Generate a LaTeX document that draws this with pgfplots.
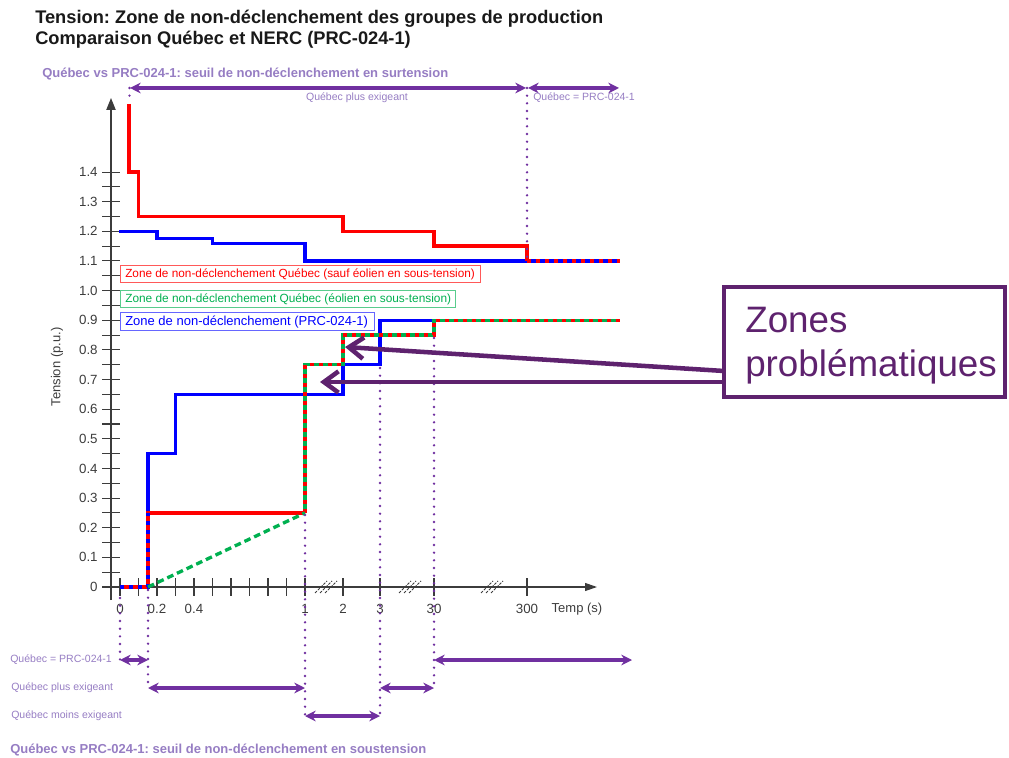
\documentclass[border=0pt]{standalone}
\usepackage{pgfplots}
\pgfplotsset{compat=1.18}
\usepackage{fontspec}
\setmainfont{Liberation Sans}
\usetikzlibrary{arrows.meta}
\frenchspacing

\definecolor{myred}{RGB}{255,0,0}
\definecolor{myblue}{RGB}{0,0,255}
\definecolor{mygreen}{RGB}{0,176,80}
\definecolor{arrowpurple}{RGB}{112,48,160}
\definecolor{lavender}{RGB}{150,125,195}
\definecolor{darkpurple}{RGB}{94,34,110}
\definecolor{axisgray}{RGB}{60,60,60}

\begin{document}
\begin{tikzpicture}
\useasboundingbox (0,0) rectangle (756.75pt,567.75pt);
\begin{axis}[
  at={(78pt,117.75pt)}, anchor=south west,
  scale only axis, width=369.75pt, height=376.5pt,
  xmin=-7, xmax=486, ymin=-0.04386, ymax=1.6498,
  axis lines=middle,
  axis line style={draw=axisgray, line width=0.9pt},
  x axis line style={-{Triangle[length=9pt,width=6pt]}},
  y axis line style={-{Triangle[length=9pt,width=7pt]}},
  clip=false,
  xtick={9,27.5,46,64.5,83,101.5,120,138.5,157,175.5,194,232,269,323,416},
  xticklabels={0,,0.2,,0.4,,,,,,1,2,3,30,300},
  ytick={0,0.1,0.2,0.3,0.4,0.5,0.6,0.7,0.8,0.9,1.0,1.1,1.2,1.3,1.4},
  yticklabels={0,0.1,0.2,0.3,0.4,0.5,0.6,0.7,0.8,0.9,1.0,1.1,1.2,1.3,1.4},
  minor y tick num=1,
  tick align=center,
  major tick length=13pt, minor tick length=13pt,
  tick style={draw=axisgray, line width=0.8pt},
  every tick/.style={draw=axisgray, line width=0.8pt},
  minor tick style={draw=axisgray, line width=0.8pt},
  hide obscured x ticks=false, hide obscured y ticks=false,
  ticklabel style={font=\fontsize{10}{12}\selectfont, text=axisgray},
  xticklabel style={yshift=-3pt},
  /pgf/number format/assume math mode=true,
]
% overvoltage PRC-024-1
\addplot[myblue, line width=2.5pt, mark=none] coordinates {(8,1.2)(46,1.2)(46,1.175)(101.5,1.175)(101.5,1.16)(194,1.16)(194,1.1)(509,1.1)};
% undervoltage PRC-024-1
\addplot[myblue, line width=2.5pt, mark=none] coordinates {(9,0)(37,0)(37,0.45)(64.5,0.45)(64.5,0.65)(232,0.65)(232,0.75)(269,0.75)(269,0.9)(509,0.9)};
% Quebec overvoltage
\addplot[myred, line width=2.5pt, mark=none] coordinates {(18,1.63)(18,1.4)(27.5,1.4)(27.5,1.25)(232,1.25)(232,1.2)(323,1.2)(323,1.15)(416,1.15)(416,1.1)};
\addplot[myred, line width=2.5pt, mark=none, dash pattern=on 3pt off 3.75pt] coordinates {(416,1.1)(509,1.1)};
% Quebec undervoltage (sauf eolien)
\addplot[myred, line width=2.5pt, mark=none] coordinates {(9,0)(37,0)(37,0.25)(194,0.25)};
\addplot[myblue, line width=2.5pt, mark=none, dash pattern=on 3pt off 3.75pt] coordinates {(9,0)(37,0)(37,0.25)};
% Quebec eolien
\addplot[mygreen, line width=2.5pt, mark=none] coordinates {(194,0.25)(194,0.75)(232,0.75)(232,0.85)(323,0.85)(323,0.9)(509,0.9)};
\addplot[myred, line width=2.5pt, mark=none, dash pattern=on 3pt off 3.75pt] coordinates {(194,0.25)(194,0.75)(232,0.75)(232,0.85)(323,0.85)(323,0.9)(509,0.9)};
\addplot[mygreen, line width=2.5pt, mark=none, dash pattern=on 5pt off 3pt] coordinates {(37,0)(194,0.25)};
\end{axis}

\begin{scope}[x=0.75pt,y=-0.75pt,yshift=567.75pt]
% titles
\node[anchor=base west, inner sep=0, font=\fontsize{13.7}{16}\selectfont\bfseries, text=black!90] at (35,23.5) {Tension: Zone de non-déclenchement des groupes de production};
\node[anchor=base west, inner sep=0, font=\fontsize{13.7}{16}\selectfont\bfseries, text=black!90] at (35,44.5) {Comparaison Québec et NERC (PRC-024-1)};
% axis labels
\node[rotate=90, inner sep=0, font=\fontsize{9.75}{12}\selectfont, text=axisgray] at (57,367) {Tension (p.u.)};
\node[inner sep=0, font=\fontsize{9.75}{12}\selectfont, text=axisgray] at (577,609) {Temp (s)};
% break marks
\foreach \c in {326,410,492}{
  \foreach \o in {-5,0,5}{
    \draw[axisgray, line width=0.6pt, dash pattern=on 2pt off 1pt] (\c+\o-6,593) -- (\c+\o+6,581);
  }
}
% dotted verticals
\begin{scope}[arrowpurple, line width=2pt, dash pattern=on 0pt off 5.75pt, line cap=round]
\draw (129.5,88) -- (129.5,103);
\draw (527,88) -- (527,261);
\draw (120,598) -- (120,660);
\draw (148,590) -- (148,688);
\draw (305,515) -- (305,716);
\draw (380,368) -- (380,716);
\draw (434,338) -- (434,688);
\end{scope}
% purple arrows
\begin{scope}[arrowpurple, line width=2.6pt, {Stealth[length=8pt,width=8pt]}-{Stealth[length=8pt,width=8pt]}]
\draw (130,88) -- (526,88);
\draw (528,88) -- (619,88);
\draw (120,660) -- (148,660);
\draw (434,660) -- (632,660);
\draw (148,688) -- (305,688);
\draw (380,688) -- (434,688);
\draw (305,716) -- (380,716);
\end{scope}
% purple labels
\node[anchor=west, inner sep=0, font=\fontsize{9.75}{12}\selectfont\bfseries, text=lavender] at (42,74) {Québec vs PRC-024-1: seuil de non-déclenchement en surtension};
\node[inner sep=0, font=\fontsize{7.9}{9}\selectfont, text=lavender] at (357,98) {Québec plus exigeant};
\node[anchor=west, inner sep=0, font=\fontsize{7.9}{9}\selectfont, text=lavender] at (533,98) {Québec = PRC-024-1};
\node[anchor=west, inner sep=0, font=\fontsize{7.9}{9}\selectfont, text=lavender] at (10,660) {Québec = PRC-024-1};
\node[anchor=west, inner sep=0, font=\fontsize{7.9}{9}\selectfont, text=lavender] at (11,688) {Québec plus exigeant};
\node[anchor=west, inner sep=0, font=\fontsize{7.9}{9}\selectfont, text=lavender] at (11,716) {Québec moins exigeant};
\node[anchor=west, inner sep=0, font=\fontsize{9.75}{12}\selectfont\bfseries, text=lavender] at (10,750) {Québec vs PRC-024-1: seuil de non-déclenchement en soustension};
% legend boxes
\draw[myred!65, line width=0.75pt, fill=white] (120,266) rectangle (480,283);
\node[anchor=west, inner sep=0, text=myred, font=\fontsize{8.85}{11}\selectfont] at (125,274.5) {Zone de non-déclenchement Québec (sauf éolien en sous-tension)};
\draw[mygreen!65, line width=0.75pt, fill=white] (120,291) rectangle (455,308);
\node[anchor=west, inner sep=0, text=mygreen, font=\fontsize{8.9}{11}\selectfont] at (125,299.5) {Zone de non-déclenchement Québec (éolien en sous-tension)};
\draw[myblue!60, line width=0.75pt, fill=white] (120,313) rectangle (374,331);
\node[anchor=west, inner sep=0, text=myblue, font=\fontsize{9.75}{12}\selectfont] at (125,322) {Zone de non-déclenchement (PRC-024-1)};
% zones problematiques
\draw[darkpurple, line width=3.4pt] (724,287) rectangle (1005,397);
\node[anchor=base west, inner sep=0, text=darkpurple, font=\fontsize{27.6}{32}\selectfont] at (745,333) {Zones};
\node[anchor=base west, inner sep=0, text=darkpurple, font=\fontsize{27.6}{32}\selectfont] at (745,377) {problématiques};
\draw[darkpurple, line width=3.4pt, -{Straight Barb[length=11pt,width=16pt]}] (724,371) -- (345,347);
\draw[darkpurple, line width=3.4pt, -{Straight Barb[length=11pt,width=16pt]}] (724,382) -- (320,382);
\end{scope}
\end{tikzpicture}
\end{document}
